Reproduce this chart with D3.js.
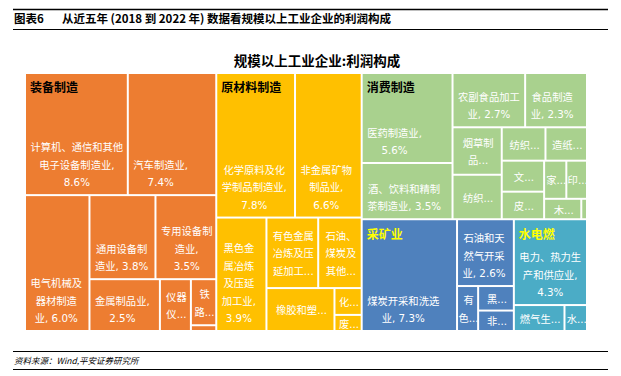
<!DOCTYPE html>
<html><head><meta charset="utf-8">
<script src="https://cdn.jsdelivr.net/npm/d3@7"></script>
<style>
body{margin:0;background:#fff;}
svg{display:block;}
</style></head><body>
<svg id="chart" width="621" height="376"></svg>
<script>
// ---------------- data ----------------
const groupNames = ["装备制造", "原材料制造", "消费制造", "采矿业", "水电燃"];

const equipNames = ["计算机、通信和其他电子设备制造业", "汽车制造业", "电气机械及器材制造业", "通用设备制造业", "专用设备制造业", "金属制品业", "仪器仪表制造业", "铁路、船舶、航空航天和其他运输设备制造业", "金属制品、机械和设备修理业"];
const equipValues = [8.6, 7.4, 6.0, 3.8, 3.5, 2.5, 1.1, 0.8, 0.1];

const rawNames = ["化学原料及化学制品制造业", "非金属矿物制品业", "黑色金属冶炼及压延加工业", "有色金属冶炼及压延加工业", "石油、煤炭及其他燃料加工业", "橡胶和塑料制品业", "化学纤维制造业", "废弃资源综合利用业"];
const rawValues = [7.8, 6.6, 3.9, 2.5, 2.1, 2.0, 0.5, 0.3];

const consNames = ["医药制造业", "酒、饮料和精制茶制造业", "农副食品加工业", "食品制造业", "烟草制品业", "纺织业", "纺织服装、服饰业", "造纸和纸制品业", "文教、工美、体育和娱乐用品制造业", "皮革、毛皮、羽毛及其制品和制鞋业", "家具制造业", "印刷和记录媒介复制业", "木材加工和木、竹、藤、棕、草制品业", "其他制造业"];
const consValues = [5.6, 3.5, 2.7, 2.3, 1.6, 1.5, 1.0, 0.95, 0.9, 0.8, 0.58, 0.54, 0.52, 0.08];

const miningNames = ["煤炭开采和洗选业", "石油和天然气开采业", "有色金属矿采选业", "黑色金属矿采选业", "非金属矿采选业"];
const miningValues = [7.3, 2.6, 0.65, 0.6, 0.5];

const utilNames = ["电力、热力生产和供应业", "燃气生产和供应业", "水的生产和供应业"];
const utilValues = [4.3, 0.9, 0.4];

const chartTitle = "规模以上工业企业:利润构成";
const headerNo = "图表6";
const headerText = "从近五年 (2018 到 2022 年) 数据看规模以上工业企业的利润构成";
const sourceText = "资料来源：Wind,平安证券研究所";

// ---------------- styles ----------------
const groupColors = ["#ED7D31", "#FFC000", "#A9D18E", "#4F81BD", "#4BACC6"];
const groupLabelColors = ["#000000", "#000000", "#000000", "#FFFF00", "#FFFF00"];
const LATIN_FONT = "DejaVu Sans";
const CJK_FONT = "Noto Sans CJK SC";
const LABEL_SIZE = 10.3;
const LINE_H = 17.5;

const svg = d3.select("#chart");

// header
svg.append("line").attr("x1", 13).attr("x2", 608).attr("y1", 9.5).attr("y2", 9.5)
  .attr("stroke", "#000").attr("stroke-width", 1.3);
svg.append("line").attr("x1", 13).attr("x2", 608).attr("y1", 29.5).attr("y2", 29.5)
  .attr("stroke", "#000").attr("stroke-width", 1);
svg.append("text").attr("x", 14).attr("y", 23).text(headerNo)
  .attr("font-family", CJK_FONT).attr("font-weight", "bold").attr("font-size", 11.5);
svg.append("text").attr("x", 62).attr("y", 23).text(headerText)
  .attr("font-family", CJK_FONT).attr("font-weight", "bold").attr("font-size", 11.5);

// title
svg.append("text").attr("x", 317).attr("y", 66).attr("text-anchor", "middle").text(chartTitle)
  .attr("font-family", CJK_FONT).attr("font-weight", "bold").attr("font-size", 13.5);

// footer
svg.append("line").attr("x1", 13).attr("x2", 608).attr("y1", 351.5).attr("y2", 351.5)
  .attr("stroke", "#000").attr("stroke-width", 1);
svg.append("line").attr("x1", 13).attr("x2", 608).attr("y1", 369.5).attr("y2", 369.5)
  .attr("stroke", "#000").attr("stroke-width", 1);
svg.append("text").attr("x", 14).attr("y", 363.5).text(sourceText)
  .attr("font-family", CJK_FONT).attr("font-style", "italic").attr("font-size", 8.5);

// ---------------- treemap ----------------
const allNames = [equipNames, rawNames, consNames, miningNames, utilNames];
const allValues = [equipValues, rawValues, consValues, miningValues, utilValues];

const data = {
  name: "root",
  children: groupNames.map((g, i) => ({
    name: g, gi: i,
    children: allNames[i].map((n, j) => ({ name: n, gi: i, value: allValues[i][j] }))
  }))
};

const root = d3.hierarchy(data).sum(d => d.value || 0).sort((a, b) => b.value - a.value);

// squarified tiling with a screen-space target cell aspect (width / height)
const TARGET = 0.86;
function worst(row, s, value, dx, dy, dice) {
  let m = 0;
  for (const c of row) {
    let w, h;
    if (dice) { h = dy * s / value; w = dx * c.value / s; }
    else { w = dx * s / value; h = dy * c.value / s; }
    const a = w / h;
    m = Math.max(m, a / TARGET, TARGET / a);
  }
  return m;
}
function tile(parent, x0, y0, x1, y1) {
  const nodes = parent.children, n = nodes.length;
  let value = parent.value, i0 = 0;
  while (i0 < n) {
    const dx = x1 - x0, dy = y1 - y0, dice = dx < dy;
    let i1 = i0, sum = 0, best = Infinity;
    while (i1 < n) {
      const s = sum + nodes[i1].value;
      const m = worst(nodes.slice(i0, i1 + 1), s, value, dx, dy, dice);
      if (m > best) break;
      best = m; sum = s; i1++;
    }
    const row = { children: nodes.slice(i0, i1), value: sum };
    if (dice) {
      const yk = i1 >= n ? y1 : y0 + dy * sum / value;
      d3.treemapDice(row, x0, y0, x1, yk); y0 = yk;
    } else {
      const xk = i1 >= n ? x1 : x0 + dx * sum / value;
      d3.treemapSlice(row, x0, y0, xk, y1); x0 = xk;
    }
    value -= sum; i0 = i1;
  }
}

const TX0 = 26, TY0 = 74, TX1 = 586, TY1 = 330;
d3.treemap().tile(tile).size([TX1 - TX0, TY1 - TY0]).paddingInner(2).round(false)(root);

const g = svg.append("g").attr("transform", `translate(${TX0},${TY0})`);

const leaves = root.leaves();
g.selectAll("rect.leaf").data(leaves).join("rect")
  .attr("class", "leaf")
  .attr("x", d => d.x0).attr("y", d => d.y0)
  .attr("width", d => Math.max(0, d.x1 - d.x0)).attr("height", d => Math.max(0, d.y1 - d.y0))
  .attr("fill", d => groupColors[d.data.gi]);

// ---------------- label layout ----------------
// ASCII runs are set in the Latin font, everything else in the CJK font
const isAscii = ch => /[\x20-\x7E]/.test(ch);
function runsOf(str) { return str.match(/[\x20-\x7E]+|[^\x20-\x7E]+/g) || []; }
function fillRuns(sel, str) {
  runsOf(str).forEach(r => sel.append("tspan")
    .attr("font-family", isAscii(r[0]) ? LATIN_FONT : CJK_FONT)
    .text(r));
}
const ctx = document.createElement("canvas").getContext("2d");
ctx.font = `${LABEL_SIZE}px "${LATIN_FONT}"`;
// full-width CJK glyphs advance one em; Latin runs are measured
function mw(str) {
  let w = 0;
  runsOf(str).forEach(r => {
    w += isAscii(r[0]) ? ctx.measureText(r).width : Array.from(r).length * LABEL_SIZE;
  });
  return w;
}

function tokenize(str) {
  const toks = [];
  for (const ch of str) {
    const last = toks[toks.length - 1];
    if (/\s/.test(ch) || /[、，,。：:；;）)]/.test(ch)) {
      if (last) last.t += ch; else toks.push({ t: ch });
    } else if (/[A-Za-z0-9.%]/.test(ch) && last && last.ascii && !/\s$/.test(last.t)) {
      last.t += ch;
    } else {
      toks.push({ t: ch, ascii: /[A-Za-z0-9.%]/.test(ch) });
    }
  }
  return toks;
}
function wrap(toks, avail) {
  const lines = []; let cur = [], cw = 0;
  for (const t of toks) {
    const w = mw(t.t);
    if (cur.length && cw + w > avail) { lines.push(cur); cur = [t]; cw = w; }
    else { cur.push(t); cw += w; }
  }
  if (cur.length) lines.push(cur);
  return lines;
}
const lineText = toks => toks.map(t => t.t).join("").replace(/\s+$/, "");
function truncate(toks, avail) {
  for (let k = toks.length; k >= 1; k--) {
    if (/[、，,：:]\s*$/.test(toks[k - 1].t)) continue;
    const s = lineText(toks.slice(0, k)) + "...";
    if (mw(s) <= avail) return s;
  }
  return Array.from(toks[0].t)[0] + "...";
}

const labelG = g.append("g").attr("font-size", LABEL_SIZE).attr("fill", "#fff");
leaves.forEach(d => {
  const w = d.x1 - d.x0, h = d.y1 - d.y0;
  if (w < 12 || h < 12) return;
  const avail = w - 7;
  const label = `${d.data.name}, ${d.data.value.toFixed(1)}%`;
  const lines = wrap(tokenize(label), avail);
  const maxLines = Math.max(1, Math.floor((h - 7.5) / LINE_H));
  let texts, cx, cys;
  if (lines.length <= maxLines) {
    texts = lines.map(lineText);
    const bw = d3.max(texts, mw);
    cx = d.x0 + 4.5 + bw / 2;
    const last = d.y1 - 11.5;
    cys = texts.map((t, i) => last - (texts.length - 1 - i) * LINE_H);
  } else {
    const shown = lines.slice(0, maxLines);
    texts = shown.map((l, i) => i === maxLines - 1 ? truncate(l, avail) : lineText(l));
    cx = (d.x0 + d.x1) / 2 + 1;
    const mid = (d.y0 + d.y1) / 2 + 1;
    cys = texts.map((t, i) => mid + (i - (texts.length - 1) / 2) * LINE_H);
  }
  texts.forEach((t, i) => {
    const te = labelG.append("text").attr("x", cx).attr("y", cys[i]).attr("dy", "0.35em")
      .attr("text-anchor", "middle");
    fillRuns(te, t);
  });
});

// group labels
g.selectAll("text.group").data(root.children).join("text")
  .attr("class", "group")
  .attr("x", d => d.x0 + 4).attr("y", d => d.y0 + 14).attr("dy", "0.36em")
  .attr("font-family", CJK_FONT).attr("font-weight", "bold").attr("font-size", 12)
  .attr("fill", d => groupLabelColors[d.data.gi])
  .text(d => d.data.name);
</script>
</body></html>
